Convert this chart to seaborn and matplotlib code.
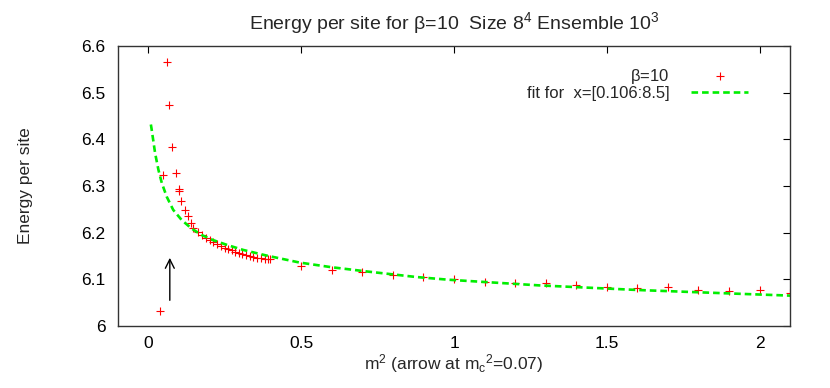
import numpy as np
import pandas as pd
import matplotlib
matplotlib.use("Agg")
import matplotlib.pyplot as plt
import seaborn as sns

# measured data (m^2, energy per site)
m2 = [0.038, 0.049, 0.060, 0.068, 0.077, 0.089, 0.099, 0.101, 0.107, 0.119,
      0.129, 0.140, 0.147, 0.163, 0.174, 0.188, 0.201, 0.212, 0.225, 0.236,
      0.250, 0.261, 0.272, 0.283, 0.296, 0.306, 0.318, 0.331, 0.342, 0.355,
      0.367, 0.380, 0.391, 0.399, 0.5, 0.6, 0.7, 0.8, 0.9, 1.0, 1.1, 1.2,
      1.3, 1.4, 1.5, 1.6, 1.7, 1.8, 1.9, 2.0, 2.1]
energy = [6.031, 6.324, 6.565, 6.474, 6.383, 6.328, 6.294, 6.290, 6.267, 6.249,
          6.236, 6.221, 6.209, 6.202, 6.195, 6.189, 6.184, 6.179, 6.175, 6.172,
          6.168, 6.164, 6.162, 6.159, 6.157, 6.154, 6.152, 6.150, 6.148, 6.146,
          6.145, 6.144, 6.143, 6.144, 6.129, 6.121, 6.116, 6.110, 6.105, 6.100,
          6.094, 6.093, 6.091, 6.087, 6.083, 6.081, 6.084, 6.077, 6.075, 6.076,
          6.071]

# fit curve
fit_x = [0.008, 0.010, 0.014, 0.022, 0.033, 0.044, 0.060, 0.081, 0.109, 0.141,
         0.174, 0.212, 0.256, 0.310, 0.386, 0.494, 0.598, 0.712, 0.875, 0.983,
         1.277, 1.603, 1.929, 2.1]
fit_y = [6.432, 6.424, 6.406, 6.370, 6.334, 6.306, 6.277, 6.249, 6.227, 6.209,
         6.195, 6.184, 6.174, 6.163, 6.151, 6.136, 6.126, 6.117, 6.105, 6.099,
         6.087, 6.077, 6.069, 6.065]

mc2 = 0.07
arrow_y = [6.049, 6.152]

df = pd.DataFrame({"m2": m2, "energy": energy})
fit = pd.DataFrame({"x": fit_x, "y": fit_y})

sns.set_style("white")
plt.rcParams["font.family"] = ["Liberation Sans", "DejaVu Sans"]
plt.rcParams["mathtext.fontset"] = "custom"
plt.rcParams["mathtext.rm"] = "Liberation Sans"
plt.rcParams["mathtext.it"] = "Liberation Sans"

fig = plt.figure(figsize=(8.3, 3.88), dpi=100)
ax = fig.add_axes([0.142, 0.160, 0.810, 0.721])

sns.scatterplot(data=df, x="m2", y="energy", ax=ax, marker="+", s=40,
                color="red", linewidth=0.8, label=r"$\beta$=10")
sns.lineplot(data=fit, x="x", y="y", ax=ax, color="#00ee00", lw=1.9,
             linestyle=(0, (2.5, 1.5)), label="fit for  x=[0.106:8.5]",
             sort=False, estimator=None)

ax.annotate("", xy=(mc2, arrow_y[1]), xytext=(mc2, arrow_y[0]),
            arrowprops=dict(arrowstyle="->", color="black", lw=1,
                            mutation_scale=16))

ax.set_xlim(-0.1, 2.1)
ax.set_ylim(6.0, 6.6)
ax.set_xticks([0, 0.5, 1, 1.5, 2])
ax.set_xticklabels(["0", "0.5", "1", "1.5", "2"])
ax.set_yticks([6.0, 6.1, 6.2, 6.3, 6.4, 6.5, 6.6])
ax.set_yticklabels(["6", "6.1", "6.2", "6.3", "6.4", "6.5", "6.6"])
ax.tick_params(direction="in", length=5, width=0.8, top=True, right=True,
               labelsize=12.5, colors="black")
ax.tick_params(axis="x", pad=7)
ax.tick_params(axis="y", pad=9)
for s in ax.spines.values():
    s.set_color("#333333")
    s.set_linewidth(1.0)

ax.set_title(r"Energy per site for $\beta$=10  Size 8$^4$ Ensemble 10$^3$",
             fontsize=14, pad=12)
ax.set_xlabel(r"m$^2$ (arrow at m$_c$$^2$=0.07)", fontsize=12.5, labelpad=1)
ax.set_ylabel("Energy per site", fontsize=12.5,
              family=["Liberation Sans Narrow", "Liberation Sans"])
ax.yaxis.set_label_coords(-0.126, 0.5)

ax.legend(loc="upper right", bbox_to_anchor=(0.947, 0.95), frameon=False,
          markerfirst=False, fontsize=12, handlelength=3.4, labelspacing=0.0,
          handletextpad=1.3, borderaxespad=0)

fig.savefig("out.png", dpi=100)
